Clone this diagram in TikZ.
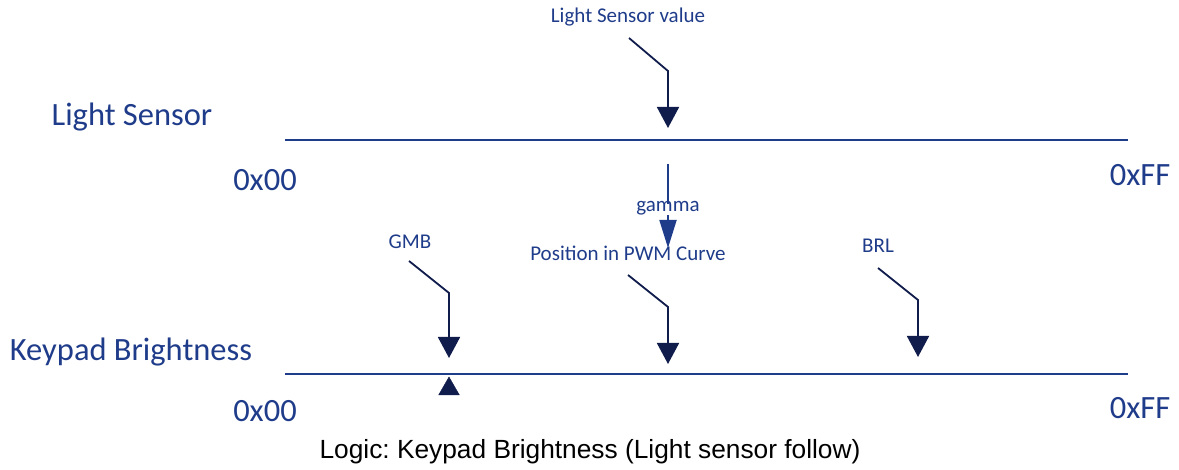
\documentclass[tikz,border=0pt]{standalone}
\usepackage{fontspec}
\setmainfont{Carlito}
\newfontfamily\capfont{Liberation Sans}
\usetikzlibrary{arrows.meta,shapes.geometric}
\definecolor{cblue}{HTML}{1F3C8A}
\definecolor{cnavy}{HTML}{101C4C}
\frenchspacing

\begin{document}
\begin{tikzpicture}[x=1pt,y=-1pt,
  big/.style={text=cblue,font=\fontsize{32.5}{35}\selectfont,inner sep=0pt},
  small/.style={text=cblue,font=\fontsize{21}{23}\selectfont,inner sep=0pt},
  scaleline/.style={cblue,line width=2pt},
  pointer/.style={cnavy,line width=1.8pt,-{Triangle[length=21pt,width=22pt]}}]
  \useasboundingbox (0,0) rectangle (1179,470);
  % scales
  \draw[scaleline] (285,140) coordinate (ls0) -- (1128,140) coordinate (ls1);
  \draw[scaleline] (285,374) coordinate (kb0) -- (1128,374) coordinate (kb1);
  \node[big] (lsname) at (132,117) {Light Sensor};
  \node[big] (lsmin) at (265,180) {0x00};
  \node[big] (lsmax) at (1140,175) {0xFF};
  \node[big] (kbname) at (131,352) {Keypad Brightness};
  \node[big] (kbmin) at (265,411) {0x00};
  \node[big] (kbmax) at (1140,408) {0xFF};
  % labels
  \node[small] (lsv) at (628,17) {Light Sensor value};
  \node[small] (gam) at (668,208) {gamma};
  \node[small] (pwm) at (628,253) {Position in PWM Curve};
  \node[small] (gmb) at (410,242) {GMB};
  \node[small] (brl) at (878,246) {BRL};
  % pointers
  \coordinate (lsvA) at (629,38);  \coordinate (lsvB) at (668,71);  \coordinate (lsvC) at (668,128);
  \coordinate (pwmA) at (628,275); \coordinate (pwmB) at (668,307); \coordinate (pwmC) at (668,364);
  \coordinate (gmbA) at (409,261); \coordinate (gmbB) at (449,293); \coordinate (gmbC) at (449,358);
  \coordinate (brlA) at (878,268); \coordinate (brlB) at (918,300); \coordinate (brlC) at (918,357);
  \draw[pointer] (lsvA) -- (lsvB) -- (lsvC);
  \draw[pointer] (pwmA) -- (pwmB) -- (pwmC);
  \draw[pointer] (gmbA) -- (gmbB) -- (gmbC);
  \draw[pointer] (brlA) -- (brlB) -- (brlC);
  % gamma step
  \coordinate (gamA) at (668,164); \coordinate (gamB) at (668,248);
  \draw[cblue,line width=1.8pt] (gamA) -- ([yshift=-3pt]gam.north);
  \draw[cblue,line width=1.8pt,-{Triangle[length=28pt,width=17pt]}] (gam.south) -- (gamB);
  % GMB marker
  \node[fill=cnavy,draw=cnavy,isosceles triangle,shape border rotate=90,
    isosceles triangle apex angle=60,minimum height=18pt,inner sep=0pt] (gmbmark) at (449,389) {};
  \node[font=\capfont\fontsize{26.3}{28}\selectfont,text=black] (cap) at (590,452)
    {Logic: Keypad Brightness (Light sensor follow)};
\end{tikzpicture}
\end{document}
